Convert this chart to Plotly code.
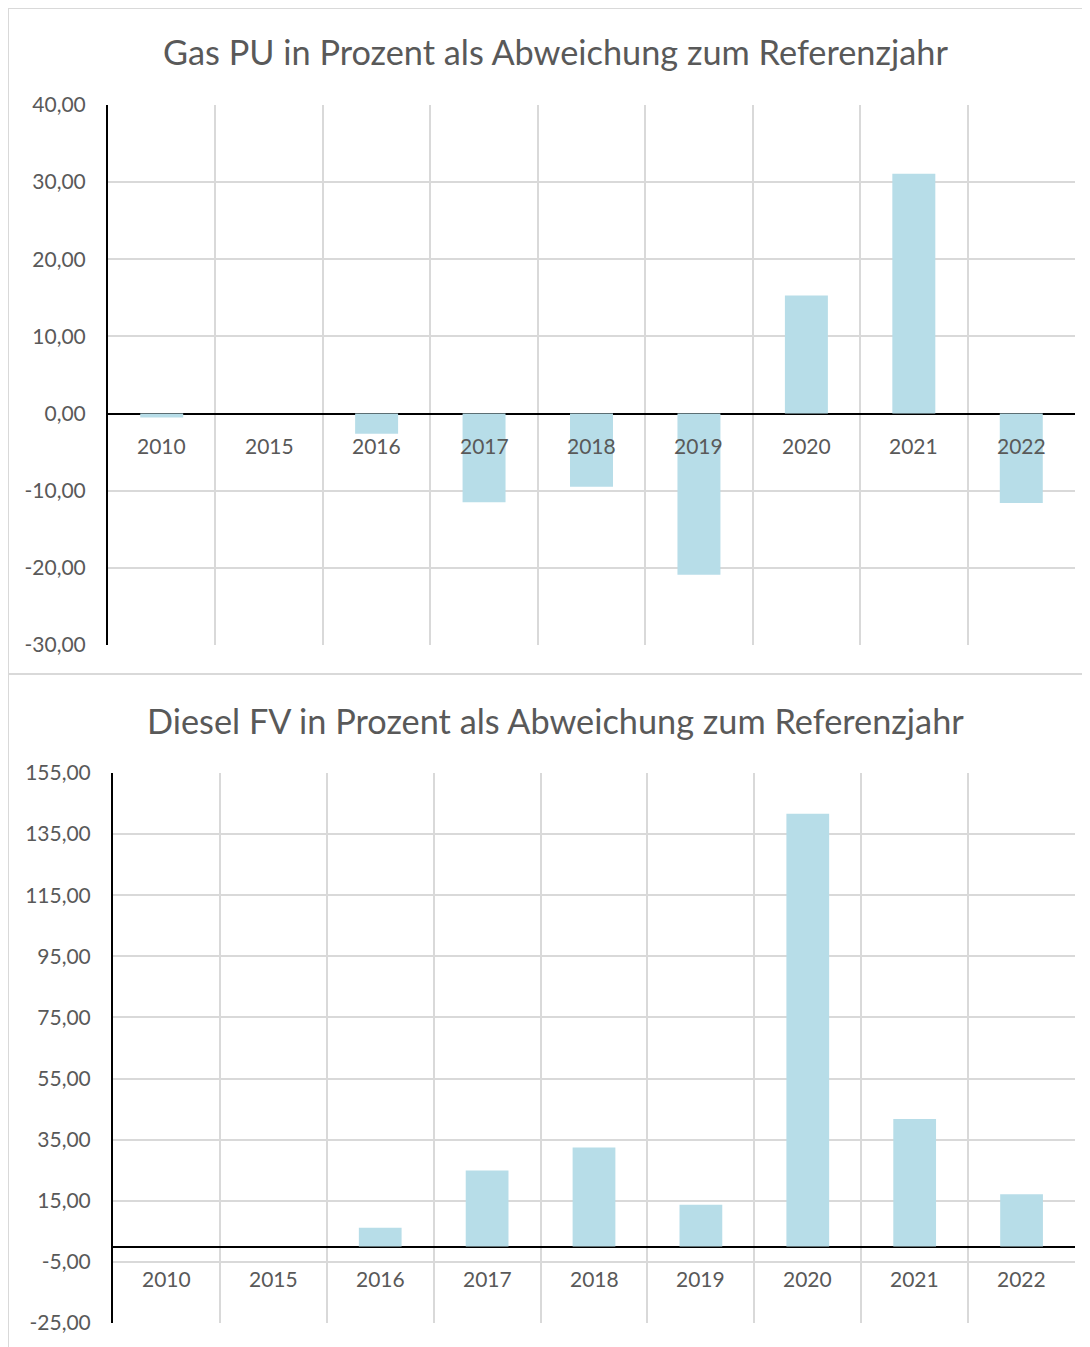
import plotly.graph_objects as go

# page body has an 8px margin; the figure is sized/placed so that reference
# pixel coordinates map onto the viewport
OFF = 8
W, H = 1090 - OFF, 1347 - OFF

years = ["2010", "2015", "2016", "2017", "2018", "2019", "2020", "2021", "2022"]
gas_pu = [-0.5, 0.0, -2.6, -11.5, -9.5, -20.9, 15.3, 31.1, -11.6]
diesel_fv = [0.0, 0.0, 6.2, 24.9, 32.4, 13.7, 141.7, 41.8, 17.1]

gas_title = "Gas PU in Prozent als Abweichung zum Referenzjahr"
diesel_title = "Diesel FV in Prozent als Abweichung zum Referenzjahr"
gas_ticks = [-30, -20, -10, 0, 10, 20, 30, 40]
diesel_ticks = [-25, -5, 15, 35, 55, 75, 95, 115, 135, 155]

BAR = "#b7dde8"
GRID = "#d9d9d9"
TXT = "#595959"
FONT = "Lato"


def px(x):
    return (x - OFF) / W


def py(y):
    return 1 - (y - OFF) / H


def fmt(v):
    return f"{v:.2f}".replace(".", ",")


fig = go.Figure()
fig.add_trace(go.Bar(x=years, y=gas_pu, marker=dict(color=BAR, line=dict(width=0)),
                     xaxis="x", yaxis="y", hoverinfo="skip"))
fig.add_trace(go.Bar(x=years, y=diesel_fv, marker=dict(color=BAR, line=dict(width=0)),
                     xaxis="x2", yaxis="y2", hoverinfo="skip"))

xcommon = dict(type="category", categoryorder="array", categoryarray=years,
               range=[-0.5, len(years) - 0.5], tickson="boundaries", showgrid=True,
               gridcolor=GRID, gridwidth=2, showticklabels=False, ticks="", showline=False,
               zeroline=False, fixedrange=True, automargin=False)
ycommon = dict(showgrid=True, gridcolor=GRID, gridwidth=2, zeroline=True,
               zerolinecolor="#000000", zerolinewidth=2, showline=True, linecolor="#000000",
               linewidth=2, ticks="", ticklabelstandoff=16, automargin=False,
               tickfont=dict(family=FONT, size=21, color=TXT), fixedrange=True)

fig.update_layout(
    template="none",
    width=W, height=H, autosize=False,
    margin=dict(l=0, r=0, t=0, b=0, pad=0),
    paper_bgcolor="white", plot_bgcolor="white",
    showlegend=False, bargap=0.6,
    xaxis=dict(domain=[px(108), px(1075)], anchor="y", **xcommon),
    yaxis=dict(domain=[py(645), py(105)], anchor="x", range=[-30, 40],
               tickvals=gas_ticks, ticktext=[fmt(v) for v in gas_ticks], **ycommon),
    xaxis2=dict(domain=[px(113), px(1075)], anchor="y2", **xcommon),
    yaxis2=dict(domain=[py(1323), py(773)], anchor="x2", range=[-25, 155],
                tickvals=diesel_ticks, ticktext=[fmt(v) for v in diesel_ticks], **ycommon),
)

annotations = [
    dict(text=gas_title, x=px(555), y=py(52), xref="paper", yref="paper",
         xanchor="center", yanchor="middle", showarrow=False,
         font=dict(family=FONT, size=34.3, color=TXT)),
    dict(text=diesel_title, x=px(555), y=py(720), xref="paper", yref="paper",
         xanchor="center", yanchor="middle", showarrow=False,
         font=dict(family=FONT, size=34.3, color=TXT)),
]
for i, yr in enumerate(years):
    annotations.append(dict(text=yr, x=i, y=0, xref="x", yref="y", yanchor="middle",
                            yshift=-32, showarrow=False,
                            font=dict(family=FONT, size=21, color=TXT)))
    annotations.append(dict(text=yr, x=i, y=0, xref="x2", yref="y2", yanchor="middle",
                            yshift=-32, showarrow=False,
                            font=dict(family=FONT, size=21, color=TXT)))
fig.update_layout(annotations=annotations)

fig.update_layout(shapes=[
    dict(type="rect", xref="paper", yref="paper", x0=px(8), x1=px(1100), y0=py(8), y1=py(674),
         line=dict(color=GRID, width=2), fillcolor="rgba(0,0,0,0)", layer="below"),
    dict(type="rect", xref="paper", yref="paper", x0=px(8), x1=px(1100), y0=py(674), y1=py(1360),
         line=dict(color=GRID, width=2), fillcolor="rgba(0,0,0,0)", layer="below"),
])

fig.write_html("out.html")
